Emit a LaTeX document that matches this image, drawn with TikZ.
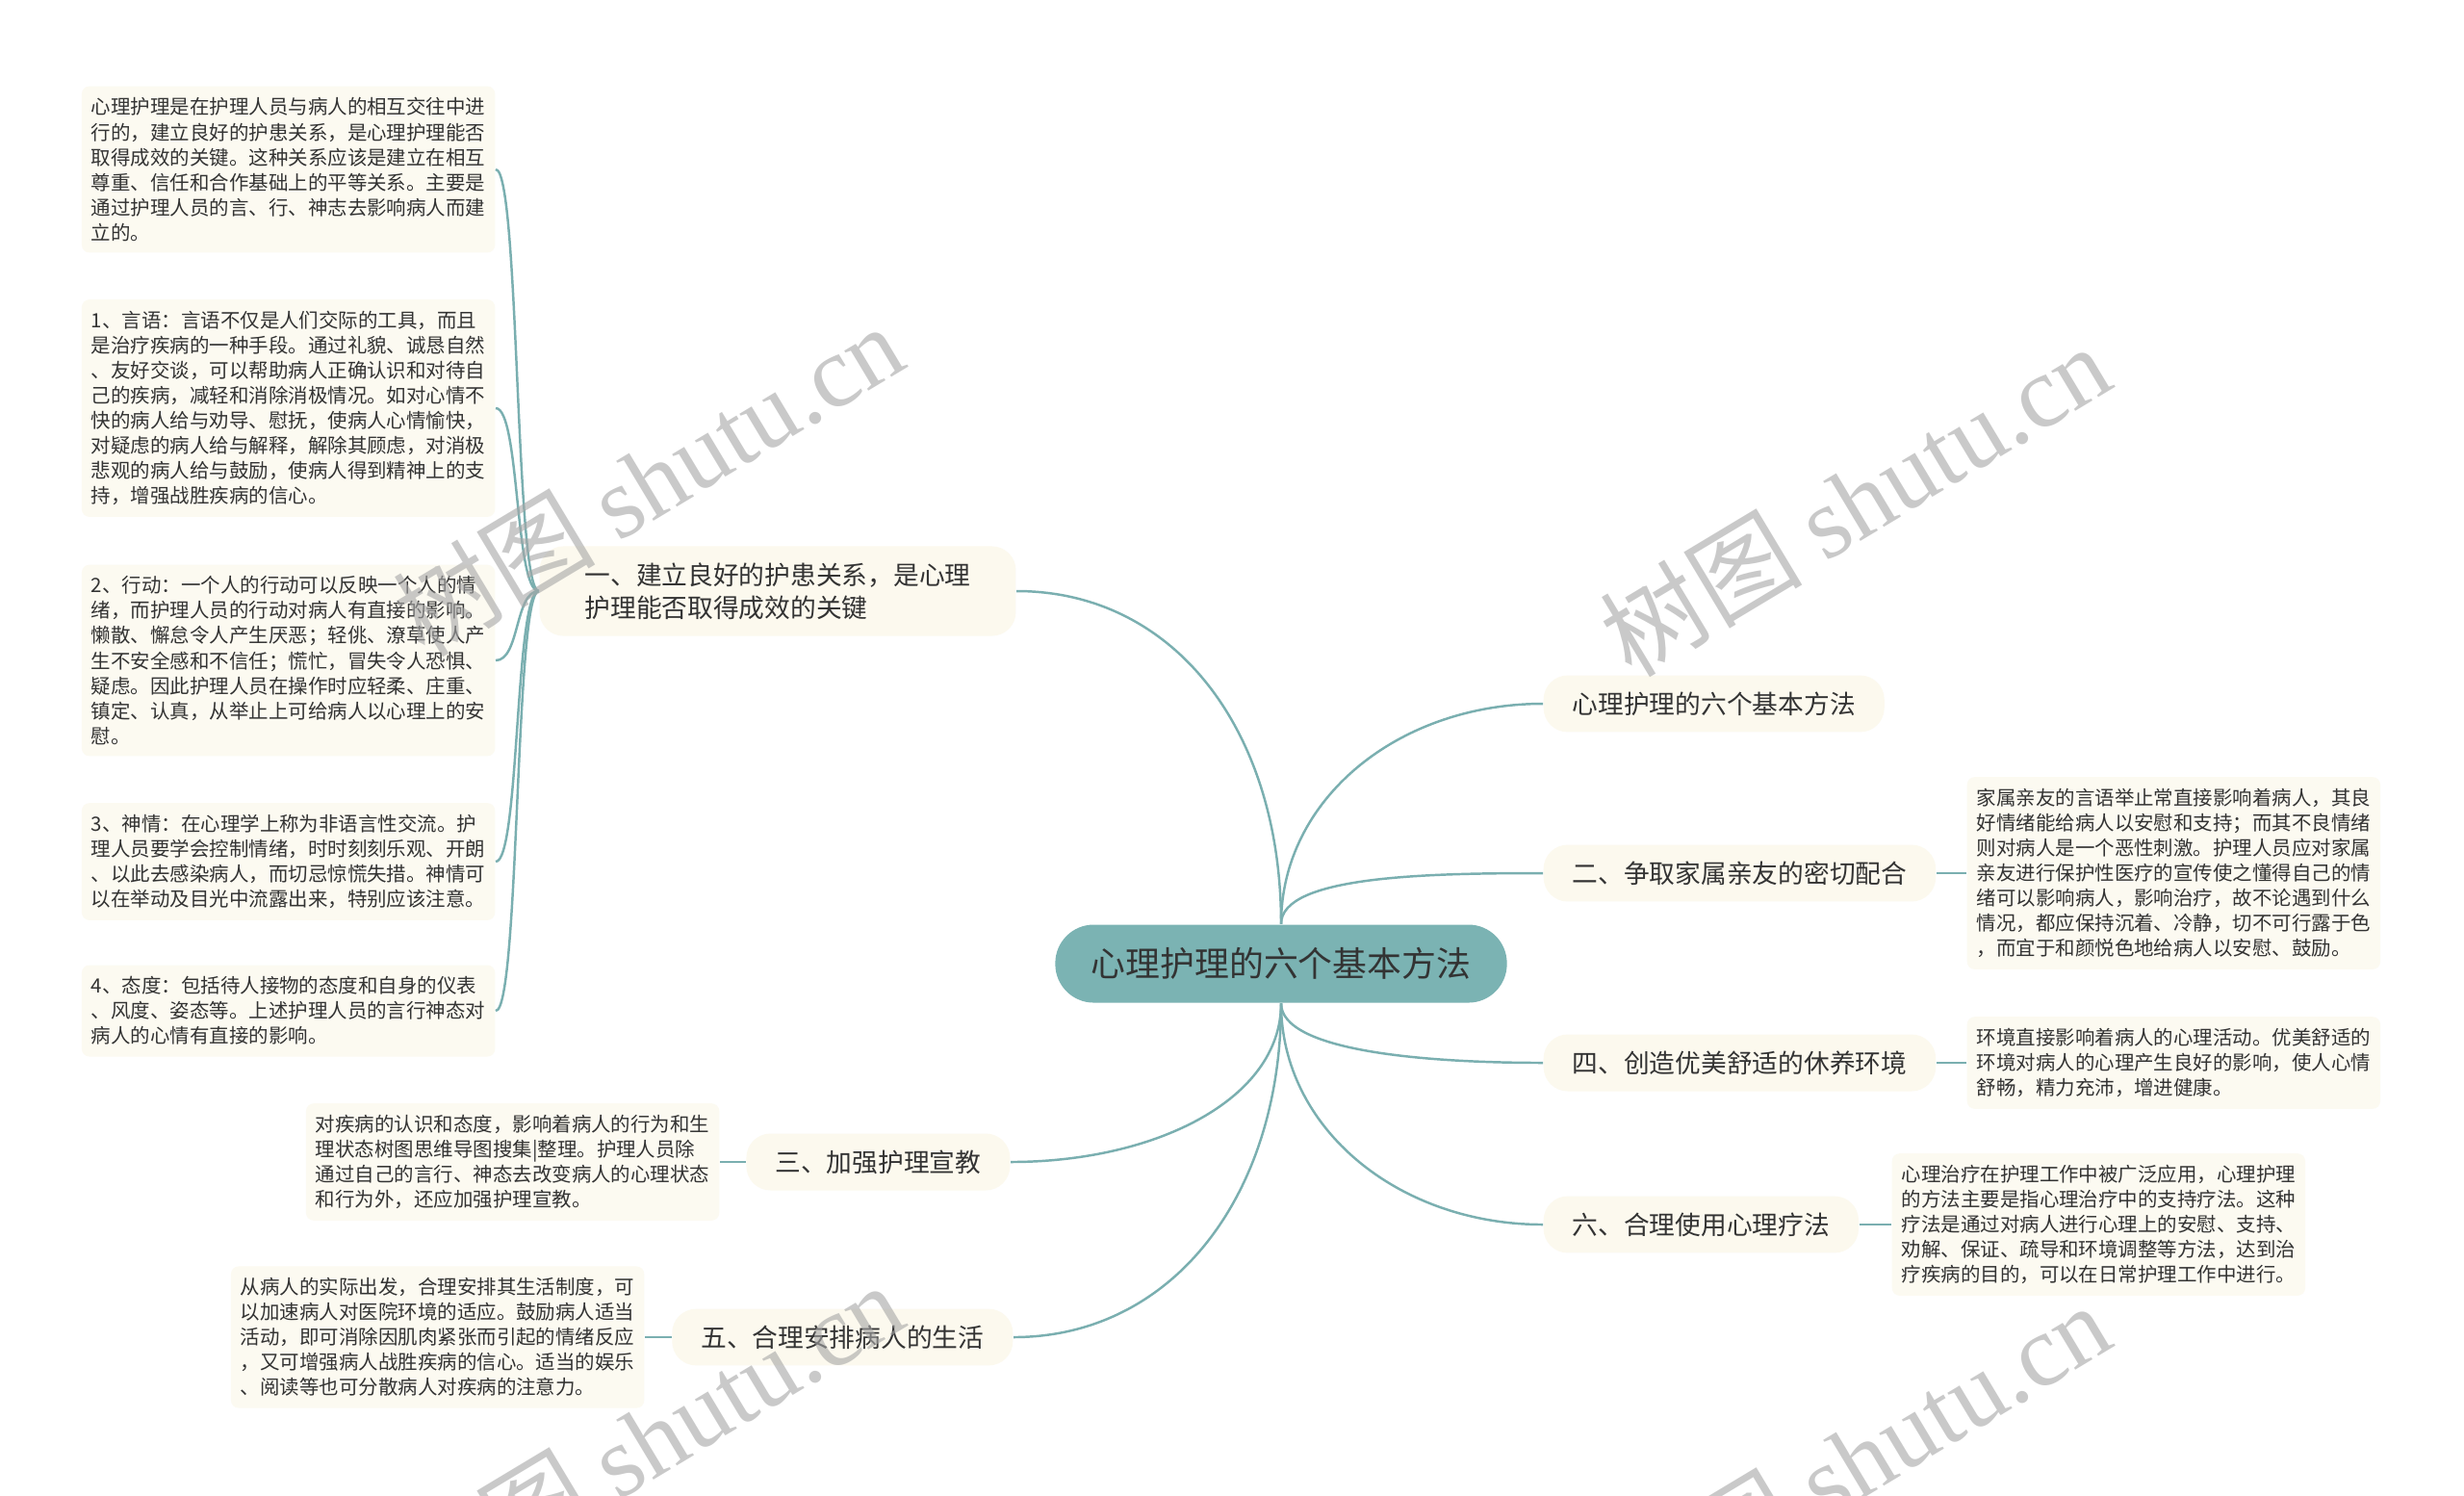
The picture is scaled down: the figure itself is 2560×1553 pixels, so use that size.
\documentclass[tikz,border=0pt]{standalone}
\usepackage{fontspec}
\setmainfont{Noto Sans CJK SC}
\newfontfamily\wmfont{Liberation Serif}
\usetikzlibrary{positioning,calc}
\definecolor{linkcol}{HTML}{7AAFB0}
\definecolor{rootcol}{HTML}{7BB3B3}
\definecolor{notecol}{HTML}{FCFAF1}
\definecolor{topiccol}{HTML}{FCF9EE}
\definecolor{inkcol}{HTML}{333333}
\tikzset{
    centre/.style={
        rectangle,
        fill=rootcol,
        rounded corners=0.4cm,
        minimum width=4.69cm,
        minimum height=0.81cm,
        text=inkcol,
        font=\fontsize{10.2pt}{12pt}\selectfont,
    },
    topic/.style={
        rectangle,
        fill=topiccol,
        rounded corners=0.25cm,
        inner xsep=0.3cm,
        inner ysep=0.17cm,
        text=inkcol,
        font=\fontsize{7.6pt}{9.7pt}\selectfont,
    },
    note/.style={
        rectangle,
        fill=notecol,
        rounded corners=0.08cm,
        align=left,
        inner xsep=0.1cm,
        inner ysep=0.12cm,
        text=inkcol,
        font=\fontsize{5.82pt}{7.4pt}\selectfont,
    },
    link/.style={
        draw=linkcol,
        line width=0.7pt,
    },
    watermark/.style={
        text=black!35,
        opacity=0.6,
        rotate=31,
        font=\fontsize{30pt}{32pt}\selectfont,
    },
}

\begin{document}
\begin{tikzpicture}[x=0.01cm,y=-0.01cm]
\useasboundingbox[fill=white] (0,0) rectangle (2560,1553);

\node [centre] (root) at (1331,1001) {心理护理的六个基本方法};

% topics
\node [topic, align=left, inner xsep=0.47cm] (t1) at (808,614) {一、建立良好的护患关系，是心理\\护理能否取得成效的关键};
\node [topic, anchor=west] (t0) at (1603,731) {心理护理的六个基本方法};
\node [topic, anchor=west] (t2) at (1603,907) {二、争取家属亲友的密切配合};
\node [topic, anchor=west] (t4) at (1603,1104) {四、创造优美舒适的休养环境};
\node [topic, anchor=west] (t6) at (1603,1272) {六、合理使用心理疗法};
\node [topic, anchor=east] (t3) at (1050,1207) {三、加强护理宣教};
\node [topic, anchor=east] (t5) at (1053,1389) {五、合理安排病人的生活};

% notes, left
\node [note, anchor=east] (n1) at (515,176) {心理护理是在护理人员与病人的相互交往中进\\行的，建立良好的护患关系，是心理护理能否\\取得成效的关键。这种关系应该是建立在相互\\尊重、信任和合作基础上的平等关系。主要是\\通过护理人员的言、行、神志去影响病人而建\\立的。};
\node [note, anchor=east] (n2) at (515,424) {1、言语：言语不仅是人们交际的工具，而且\\是治疗疾病的一种手段。通过礼貌、诚恳自然\\、友好交谈，可以帮助病人正确认识和对待自\\己的疾病，减轻和消除消极情况。如对心情不\\快的病人给与劝导、慰抚，使病人心情愉快，\\对疑虑的病人给与解释，解除其顾虑，对消极\\悲观的病人给与鼓励，使病人得到精神上的支\\持，增强战胜疾病的信心。};
\node [note, anchor=east] (n3) at (515,686) {2、行动：一个人的行动可以反映一个人的情\\绪，而护理人员的行动对病人有直接的影响。\\懒散、懈怠令人产生厌恶；轻佻、潦草使人产\\生不安全感和不信任；慌忙，冒失令人恐惧、\\疑虑。因此护理人员在操作时应轻柔、庄重、\\镇定、认真，从举止上可给病人以心理上的安\\慰。};
\node [note, anchor=east] (n4) at (515,895) {3、神情：在心理学上称为非语言性交流。护\\理人员要学会控制情绪，时时刻刻乐观、开朗\\、以此去感染病人，而切忌惊慌失措。神情可\\以在举动及目光中流露出来，特别应该注意。};
\node [note, anchor=east] (n5) at (515,1050) {4、态度：包括待人接物的态度和自身的仪表\\、风度、姿态等。上述护理人员的言行神态对\\病人的心情有直接的影响。};
\node [note, anchor=east] (n6) at (748,1207) {对疾病的认识和态度，影响着病人的行为和生\\理状态树图思维导图搜集|整理。护理人员除\\通过自己的言行、神态去改变病人的心理状态\\和行为外，还应加强护理宣教。};
\node [note, anchor=east] (n7) at (670,1389) {从病人的实际出发，合理安排其生活制度，可\\以加速病人对医院环境的适应。鼓励病人适当\\活动，即可消除因肌肉紧张而引起的情绪反应\\，又可增强病人战胜疾病的信心。适当的娱乐\\、阅读等也可分散病人对疾病的注意力。};

% notes, right
\node [note, anchor=west] (n8) at (2043,907) {家属亲友的言语举止常直接影响着病人，其良\\好情绪能给病人以安慰和支持；而其不良情绪\\则对病人是一个恶性刺激。护理人员应对家属\\亲友进行保护性医疗的宣传使之懂得自己的情\\绪可以影响病人，影响治疗，故不论遇到什么\\情况，都应保持沉着、冷静，切不可行露于色\\，而宜于和颜悦色地给病人以安慰、鼓励。};
\node [note, anchor=west] (n9) at (2043,1104) {环境直接影响着病人的心理活动。优美舒适的\\环境对病人的心理产生良好的影响，使人心情\\舒畅，精力充沛，增进健康。};
\node [note, anchor=west] (n10) at (1965,1272) {心理治疗在护理工作中被广泛应用，心理护理\\的方法主要是指心理治疗中的支持疗法。这种\\疗法是通过对病人进行心理上的安慰、支持、\\劝解、保证、疏导和环境调整等方法，达到治\\疗疾病的目的，可以在日常护理工作中进行。};

% root to topics
\draw [link] (root.north) .. controls +(0,-200) and ($(t1.east)+(165,0)$) .. (t1.east);
\draw [link] (root.north) .. controls +(0,-130) and ($(t0.west)+(-150,0)$) .. (t0.west);
\draw [link] (root.north) .. controls +(0,-50) and ($(t2.west)+(-120,0)$) .. (t2.west);
\draw [link] (root.south) .. controls +(0,50) and ($(t4.west)+(-120,0)$) .. (t4.west);
\draw [link] (root.south) .. controls +(0,130) and ($(t6.west)+(-150,0)$) .. (t6.west);
\draw [link] (root.south) .. controls +(0,100) and ($(t3.east)+(150,0)$) .. (t3.east);
\draw [link] (root.south) .. controls +(0,200) and ($(t5.east)+(165,0)$) .. (t5.east);

% topics to notes
\foreach \n in {n1,n2,n3,n4,n5}
    \draw [link] (t1.west) .. controls +(-25,0) and ($(\n.east)+(25,0)$) .. (\n.east);
\draw [link] (t3) -- (n6);
\draw [link] (t5) -- (n7);
\draw [link] (t2) -- (n8);
\draw [link] (t4) -- (n9);
\draw [link] (t6) -- (n10);

% watermarks
\begin{scope}
    \clip (0,0) rectangle (2560,1553);
    \node [watermark] (w1) at (673,498) {树图 {\wmfont shutu.cn}};
    \node [watermark] (w2) at (1927,519) {树图 {\wmfont shutu.cn}};
    \node [watermark] (w3) at (673,1494) {树图 {\wmfont shutu.cn}};
    \node [watermark] (w4) at (1927,1515) {树图 {\wmfont shutu.cn}};
\end{scope}
\end{tikzpicture}
\end{document}
